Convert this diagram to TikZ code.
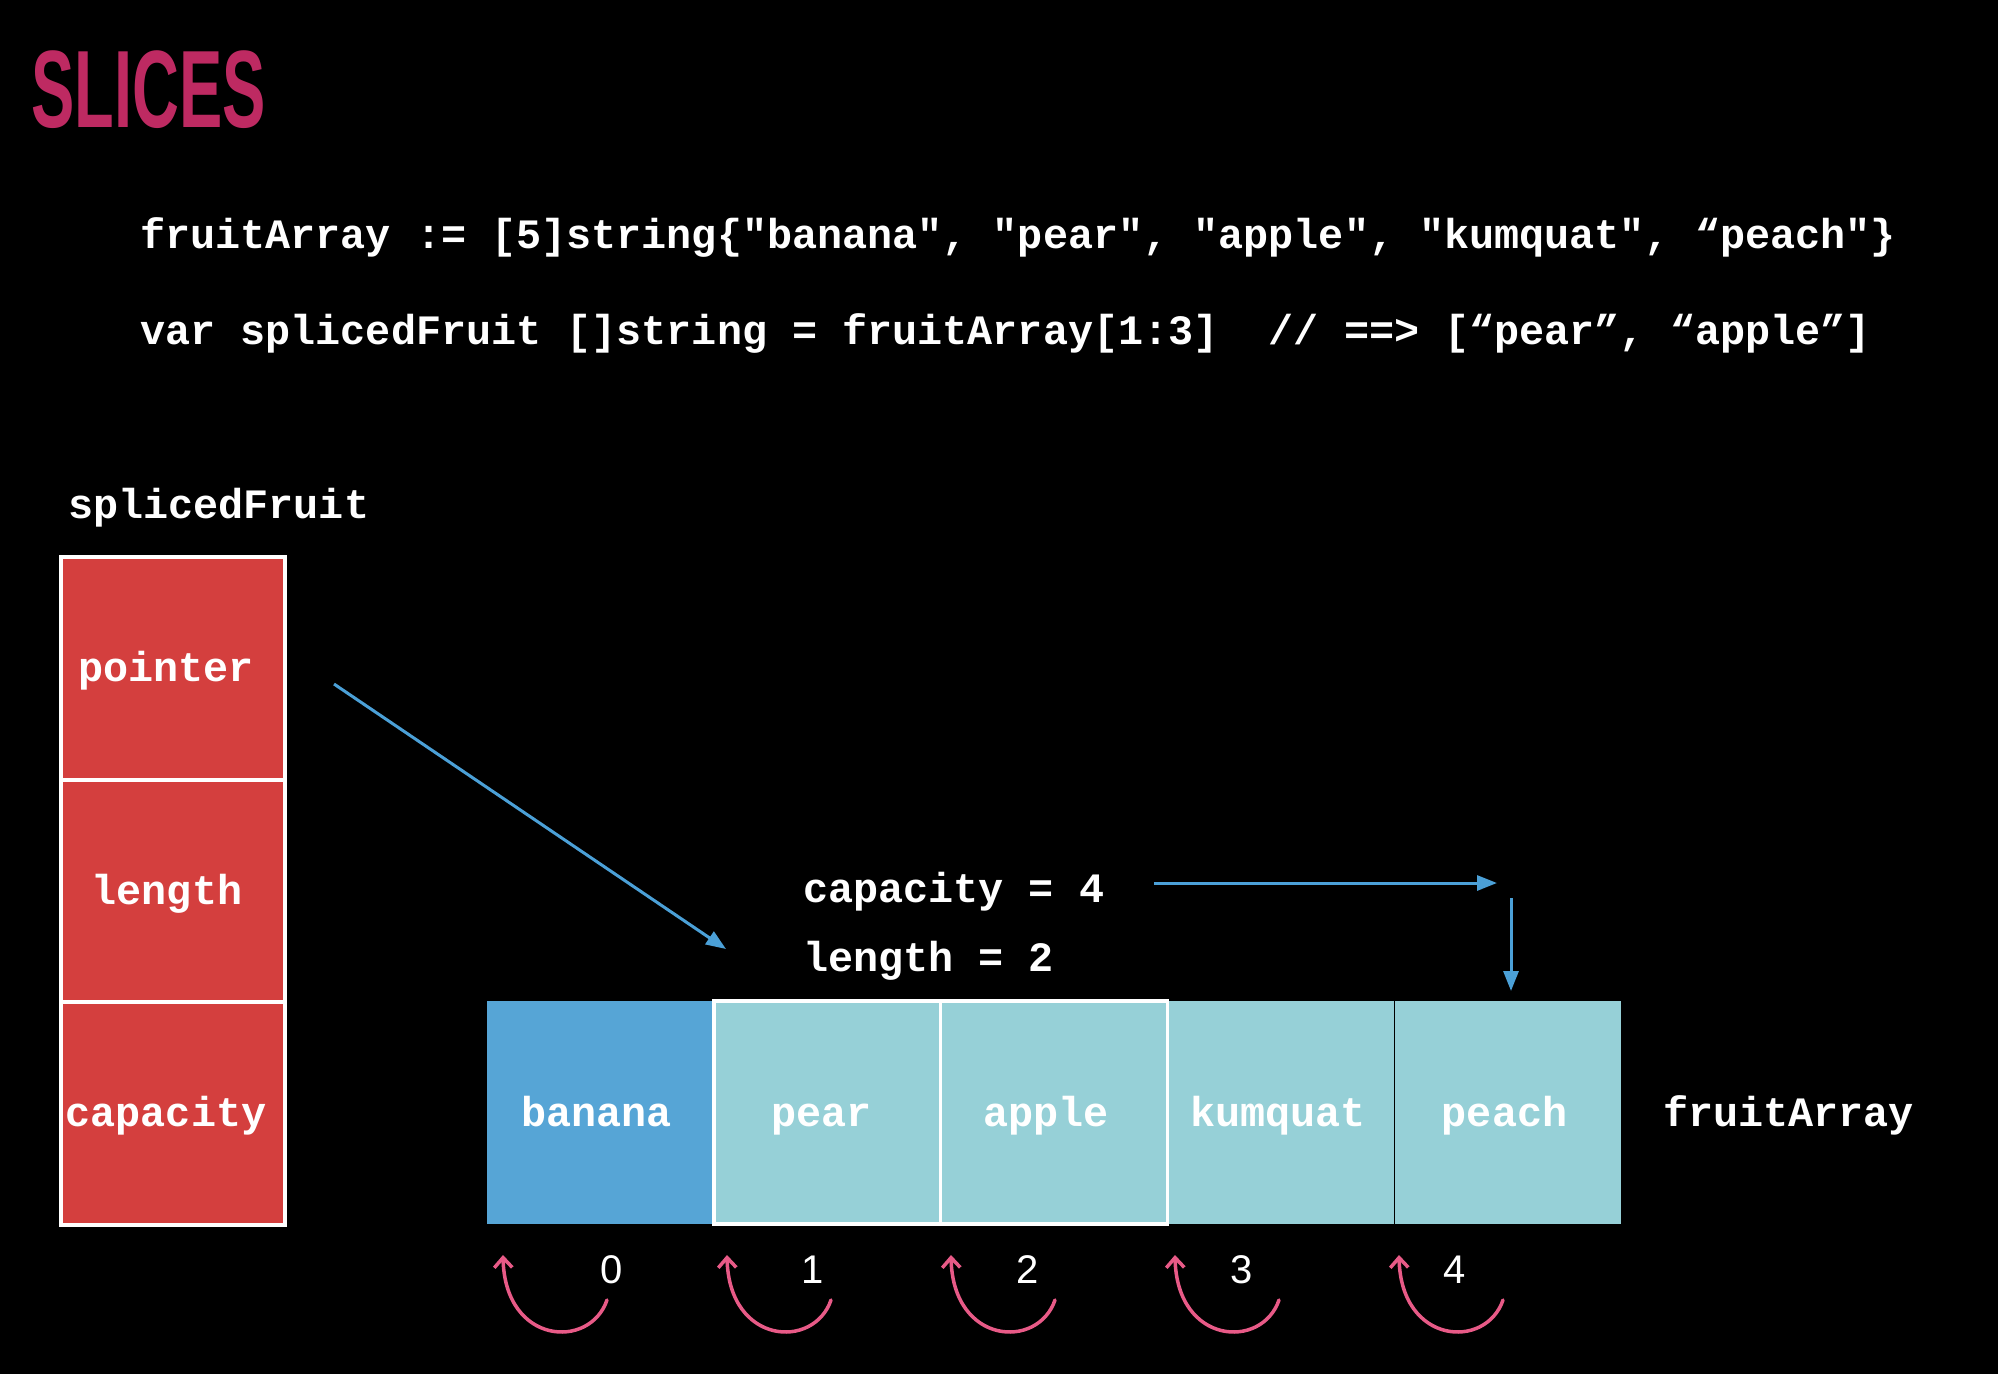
\documentclass[tikz,border=0pt]{standalone}
\usepackage{fontspec}
\usetikzlibrary{arrows.meta}
\newfontfamily\codefont{Liberation Mono}
\newfontfamily\sansfnt{Liberation Sans}
\definecolor{titlepink}{RGB}{190,42,98}
\definecolor{boxred}{RGB}{212,63,62}
\definecolor{cellblue}{RGB}{86,165,214}
\definecolor{cellcyan}{RGB}{150,208,215}
\definecolor{arrowblue}{RGB}{75,160,215}
\definecolor{arrowpink}{RGB}{232,90,135}
\newcommand{\lowtxt}[1]{\raisebox{-11.5pt}{#1}}
\tikzset{
  code/.style={font=\codefont\bfseries\fontsize{41.8}{50}\selectfont, text=white, inner sep=0pt},
  sfcell/.style={code, draw=white, fill=boxred, line width=4pt, minimum width=224pt, minimum height=222.5pt, text height=1ex, text depth=0pt},
  arrcell/.style={code, minimum width=226.8pt, minimum height=223pt, text height=1ex, text depth=0pt},
  slicecell/.style={arrcell, fill=cellcyan, draw=white, line width=3.5pt},
  digit/.style={font=\sansfnt\fontsize{40}{48}\selectfont, text=white, inner sep=0pt},
  bluearrow/.style={draw=arrowblue, line width=3pt, -{Triangle[length=20pt,width=15pt]}},
  pinkarrow/.style={draw=arrowpink, line width=3.5pt, line cap=round, -{Straight Barb[length=10pt,width=18pt]}}
}
\begin{document}
\begin{tikzpicture}[x=1pt,y=-1pt]
\fill[black] (0,0) rectangle (1998,1374);
\useasboundingbox (0,0) rectangle (1998,1374);

% title
\node[font=\sansfnt\bfseries\fontsize{110}{120}\selectfont, text=titlepink, inner sep=0pt, anchor=base west] (title) at (31,127) {\scalebox{0.59}[1]{SLICES}};

% code lines
\node[code, anchor=mid west] (code1) at (140,246.5) {fruitArray := [5]string\{"banana", "pear", "apple", "kumquat", “peach"\}};
\node[code, anchor=mid west] (code2) at (140,342.5) {var splicedFruit []string = fruitArray[1:3]\ \ // ==> [“pear”, “apple”]};

% slice header
\node[code, anchor=mid west] (sfLabel) at (68,516.5) {splicedFruit};
\node[sfcell] (ptr) at (173,668.25) {\lowtxt{pointer}\hspace*{14pt}};
\node[sfcell] (len) at (173,890.75) {\lowtxt{length}\hspace*{12pt}};
\node[sfcell] (cap) at (173,1113.25) {\lowtxt{capacity}\hspace*{14pt}};

% array cells
\node[arrcell, fill=cellblue] (c0) at (600.4,1112.5) {\lowtxt{banana}\hspace*{8pt}};
\node[arrcell, fill=cellcyan] (c3) at (1280.8,1112.5) {\lowtxt{kumquat}\hspace*{5pt}};
\node[arrcell, fill=cellcyan] (c4) at (1507.6,1112.5) {\lowtxt{peach}\hspace*{6pt}};
\node[slicecell] (c1) at (827.2,1112.5) {\lowtxt{pear}\hspace*{12pt}};
\node[slicecell] (c2) at (1054,1112.5) {\lowtxt{apple}\hspace*{16pt}};
\draw[black, line width=1.5pt] (c3.north east) -- (c3.south east);

\node[code, anchor=mid west] (faLabel) at (1663,1124.5) {fruitArray};

% length / capacity
\node[code, anchor=mid west] (capTxt) at (803,900) {capacity = 4};
\node[code, anchor=mid west] (lenTxt) at (803,969) {length = 2};

% blue arrows
\coordinate (pS) at (334,684);
\coordinate (pE) at (726,949);
\draw[bluearrow] (pS) -- (pE);
\coordinate (hS) at (1154,883);
\coordinate (hE) at (1497,883);
\draw[bluearrow] (hS) -- (hE);
\coordinate (vS) at (1511,898);
\coordinate (vE) at (1511,991);
\draw[bluearrow] (vS) -- (vE);

% indices
\node[digit] (d0) at (612,1270) {0};
\node[digit] (d1) at (813,1270) {1};
\node[digit] (d2) at (1028,1270) {2};
\node[digit] (d3) at (1242,1270) {3};
\node[digit] (d4) at (1455,1270) {4};

% pink arrows
\foreach \i in {0,...,4}{
  \coordinate (a\i) at ({607+224*\i},1300);
  \coordinate (b\i) at ({503+224*\i},1255);
  \draw[pinkarrow] (a\i) .. controls +(-17,50) and +(2,90) .. (b\i);
}
\end{tikzpicture}
\end{document}
